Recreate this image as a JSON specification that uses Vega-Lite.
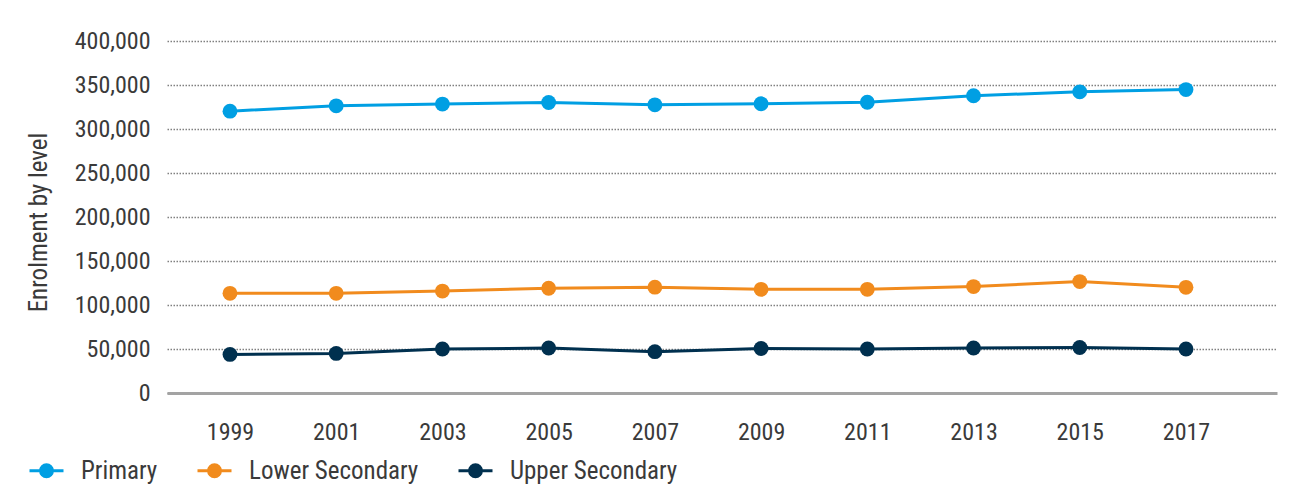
{
  "$schema": "https://vega.github.io/schema/vega-lite/v6.json",
  "width": 1110,
  "height": 352,
  "autosize": {"type": "none"},
  "padding": {"left": 167, "top": 41, "right": 17, "bottom": 106},
  "background": "white",
  "config": {
    "font": "Roboto Condensed",
    "view": {"stroke": null},
    "axis": {"labelFont": "Roboto Condensed", "titleFont": "Roboto Condensed", "labelColor": "#3a3a3a", "titleColor": "#3a3a3a"},
    "legend": {"labelFont": "Roboto Condensed"}
  },
  "data": {
    "values": [
      {"year": 1999, "level": "Primary", "enrolment": 320300},
      {"year": 2001, "level": "Primary", "enrolment": 326300},
      {"year": 2003, "level": "Primary", "enrolment": 328300},
      {"year": 2005, "level": "Primary", "enrolment": 330100},
      {"year": 2007, "level": "Primary", "enrolment": 327500},
      {"year": 2009, "level": "Primary", "enrolment": 328700},
      {"year": 2011, "level": "Primary", "enrolment": 330400},
      {"year": 2013, "level": "Primary", "enrolment": 337800},
      {"year": 2015, "level": "Primary", "enrolment": 342200},
      {"year": 2017, "level": "Primary", "enrolment": 344800},
      {"year": 1999, "level": "Lower Secondary", "enrolment": 113300},
      {"year": 2001, "level": "Lower Secondary", "enrolment": 113300},
      {"year": 2003, "level": "Lower Secondary", "enrolment": 115800},
      {"year": 2005, "level": "Lower Secondary", "enrolment": 119000},
      {"year": 2007, "level": "Lower Secondary", "enrolment": 120300},
      {"year": 2009, "level": "Lower Secondary", "enrolment": 117800},
      {"year": 2011, "level": "Lower Secondary", "enrolment": 117800},
      {"year": 2013, "level": "Lower Secondary", "enrolment": 120900},
      {"year": 2015, "level": "Lower Secondary", "enrolment": 126600},
      {"year": 2017, "level": "Lower Secondary", "enrolment": 120100},
      {"year": 1999, "level": "Upper Secondary", "enrolment": 43800},
      {"year": 2001, "level": "Upper Secondary", "enrolment": 45000},
      {"year": 2003, "level": "Upper Secondary", "enrolment": 50000},
      {"year": 2005, "level": "Upper Secondary", "enrolment": 51100},
      {"year": 2007, "level": "Upper Secondary", "enrolment": 47000},
      {"year": 2009, "level": "Upper Secondary", "enrolment": 50600},
      {"year": 2011, "level": "Upper Secondary", "enrolment": 50000},
      {"year": 2013, "level": "Upper Secondary", "enrolment": 51100},
      {"year": 2015, "level": "Upper Secondary", "enrolment": 51700},
      {"year": 2017, "level": "Upper Secondary", "enrolment": 50000}
    ]
  },
  "encoding": {
    "x": {
      "field": "year",
      "type": "quantitative",
      "scale": {"domain": [1997.814, 2018.714], "nice": false, "zero": false},
      "axis": {
        "title": null,
        "values": [1999, 2001, 2003, 2005, 2007, 2009, 2011, 2013, 2015, 2017],
        "format": "d",
        "grid": false,
        "ticks": false,
        "labelFontSize": 24,
        "labelPadding": 27,
        "labelBaseline": "top",
        "domain": true,
        "domainColor": "#a3a3a3",
        "domainWidth": 3
      }
    },
    "y": {
      "field": "enrolment",
      "type": "quantitative",
      "scale": {"domain": [0, 400000], "nice": false},
      "axis": {
        "title": "Enrolment by level",
        "values": [0, 50000, 100000, 150000, 200000, 250000, 300000, 350000, 400000],
        "format": ",d",
        "grid": true,
        "gridColor": "#808080",
        "gridDash": [1.5, 1.5],
        "gridWidth": 1.5,
        "ticks": false,
        "domain": false,
        "labelFontSize": 24,
        "labelPadding": 17,
        "titleFontSize": 25,
        "titleFontWeight": "normal",
        "titleX": -129,
        "titleY": 181,
        "titleAngle": -90,
        "titleBaseline": "middle",
        "titleAlign": "center"
      }
    },
    "color": {
      "field": "level",
      "type": "nominal",
      "scale": {"domain": ["Primary", "Lower Secondary", "Upper Secondary"], "range": ["#009fe3", "#f18b1d", "#00304f"]},
      "legend": {
        "orient": "none",
        "legendX": -139,
        "legendY": 411,
        "direction": "horizontal",
        "title": null,
        "symbolType": "M-1,0L1,0M-0.35,0A0.35,0.35,0,1,1,0.35,0A0.35,0.35,0,1,1,-0.35,0Z",
        "symbolSize": 1156,
        "symbolStrokeWidth": 3,
        "labelFontSize": 25,
        "labelColor": "#3a3a3a",
        "labelOffset": 16,
        "labelLimit": 400,
        "columnPadding": 33,
        "encode": {
          "symbols": {
            "update": {
              "fill": {"scale": "color", "field": "value"},
              "stroke": {"scale": "color", "field": "value"},
              "opacity": {"value": 1}
            }
          }
        }
      }
    }
  },
  "layer": [
    {"mark": {"type": "line", "strokeWidth": 3}},
    {"mark": {"type": "point", "filled": true, "size": 220, "opacity": 1}}
  ]
}
